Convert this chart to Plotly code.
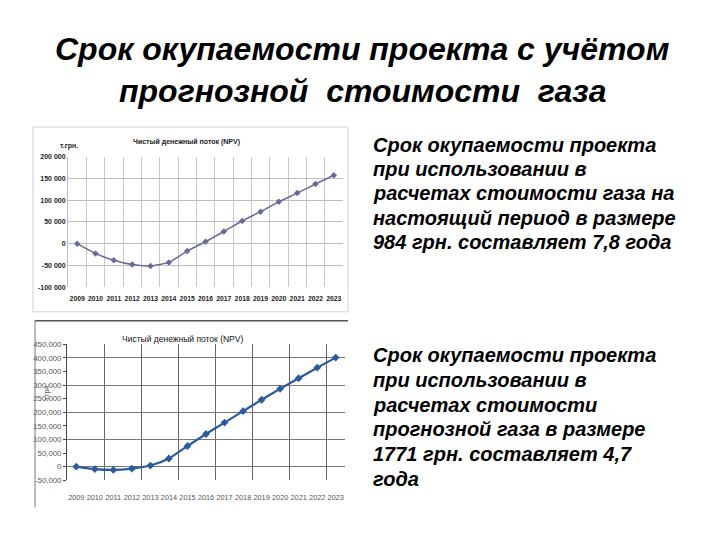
import plotly.graph_objects as go

years = [2009, 2010, 2011, 2012, 2013, 2014, 2015, 2016, 2017, 2018, 2019, 2020, 2021, 2022, 2023]
npv_current = [0, -22500, -38000, -48000, -51000, -43000, -17000, 4500, 28000, 52000, 73500, 96000, 116000, 137000, 157000]
npv_forecast = [0, -9000, -12000, -7000, 4000, 30000, 76000, 120000, 162000, 204000, 246000, 286000, 325000, 364000, 401000]

y1_ticks = [-100000, -50000, 0, 50000, 100000, 150000, 200000]
y1_labels = ["-100 000", "-50 000", "0", "50 000", "100 000", "150 000", "200 000"]
y2_ticks = [-50000, 0, 50000, 100000, 150000, 200000, 250000, 300000, 350000, 400000, 450000]
y2_labels = ["-50,000", "0", "50,000", "100,000", "150,000", "200,000", "250,000",
             "300,000", "350,000", "400,000", "450,000"]

title_lines = ["Срок окупаемости проекта с учётом", "прогнозной  стоимости  газа"]
text1_lines = ["Срок окупаемости проекта", "при использовании в", "расчетах стоимости газа на",
               "настоящий период в размере", "984 грн. составляет 7,8 года"]
text2_lines = ["Срок окупаемости проекта", "при использовании в", "расчетах стоимости",
               "прогнозной газа в размере", "1771 грн. составляет 4,7", "года"]
chart_title = "Чистый денежный поток (NPV)"

# the page body has an 8px margin; size the figure so that it fills the window exactly
OFF = 8
W, H = 720 - OFF, 540 - OFF
def px(x): return (x - OFF) / W
def py(y): return 1 - (y - OFF) / H

FONT = "Liberation Sans"

fig = go.Figure()
fig.add_trace(go.Scatter(
    x=years, y=npv_current, mode="lines+markers", xaxis="x", yaxis="y",
    line=dict(color="#6a6a98", width=1.5, shape="spline", smoothing=0.6),
    marker=dict(symbol="diamond", size=5, color="#6a6a98"),
    showlegend=False, hoverinfo="skip"))
fig.add_trace(go.Scatter(
    x=years, y=npv_forecast, mode="lines+markers", xaxis="x2", yaxis="y2",
    line=dict(color="#2c5b9c", width=2.2, shape="spline", smoothing=0.6),
    marker=dict(symbol="diamond", size=6, color="#2c5b9c"),
    showlegend=False, hoverinfo="skip"))

fig.update_layout(
    width=W, height=H,
    margin=dict(l=0, r=0, t=0, b=0),
    paper_bgcolor="white", plot_bgcolor="white",
    font=dict(family=FONT, color="#000"),
    xaxis=dict(domain=[px(68), px(343)], anchor="y", range=[2008.5, 2023.5],
               tickmode="array", tickvals=years, ticktext=[str(v) for v in years],
               showgrid=False, zeroline=False, showline=False, ticks="", tickangle=0,
               ticklabelstandoff=6,
               tickfont=dict(size=6.8, color="#222", weight="bold"),
               minor=dict(tick0=2008.5, dtick=1, showgrid=True, gridcolor="#c8c8c8", gridwidth=1, ticks="")),
    yaxis=dict(domain=[py(288), py(155)], anchor="x", range=[-100000, 200000],
               tickmode="array", tickvals=y1_ticks, ticktext=y1_labels,
               showgrid=True, gridcolor="#bdbdbd", gridwidth=1, zeroline=False,
               showline=True, linecolor="#bdbdbd", ticks="",
               tickfont=dict(size=7, color="#222", weight="bold")),
    xaxis2=dict(domain=[px(67), px(345)], anchor="y2", range=[2008.5, 2023.5],
                tickmode="array", tickvals=years, ticktext=[str(v) for v in years],
                showgrid=False, zeroline=False, showline=False, ticks="", tickangle=0,
                ticklabelstandoff=11,
                tickfont=dict(size=7.3, color="#555"),
                minor=dict(tick0=2010.5, dtick=2, showgrid=True, gridcolor="#666", gridwidth=1, ticks="")),
    yaxis2=dict(domain=[py(484.3), py(346)], anchor="x2", range=[-50000, 450000],
                tickmode="array", tickvals=y2_ticks, ticktext=y2_labels,
                showgrid=False, zeroline=False,
                showline=True, linecolor="#444", ticks="outside", ticklen=3, tickcolor="#444",
                tickfont=dict(size=7.8, color="#555"),
                minor=dict(tickvals=[0, 100000, 200000, 300000, 400000], showgrid=True,
                           gridcolor="#777", gridwidth=1, ticks="")),
)

# frames
fig.add_shape(type="rect", xref="paper", yref="paper",
              x0=px(33), x1=px(348), y0=py(313), y1=py(125),
              line=dict(color="#d0d0d0", width=1), layer="below")
fig.add_shape(type="line", xref="paper", yref="paper",
              x0=px(35), x1=px(348), y0=py(322), y1=py(322),
              line=dict(color="#555", width=1.5))
fig.add_shape(type="line", xref="paper", yref="paper",
              x0=px(35), x1=px(35), y0=py(322), y1=py(512),
              line=dict(color="#777", width=1))

ann = []
bi = dict(family=FONT, weight="bold", style="italic", color="#000")
for i, line in enumerate(title_lines):
    ann.append(dict(text=line, x=px(362), y=py(46 + 42.5 * i), xref="paper", yref="paper",
                    xanchor="center", yanchor="middle", showarrow=False,
                    font=dict(size=32, **bi)))
for i, line in enumerate(text1_lines):
    ann.append(dict(text=line, x=px(371), y=py(143 + 24.7 * i), xref="paper", yref="paper",
                    xanchor="left", yanchor="middle", showarrow=False,
                    font=dict(size=20, **bi)))
for i, line in enumerate(text2_lines):
    ann.append(dict(text=line, x=px(371), y=py(357 + 25.2 * i), xref="paper", yref="paper",
                    xanchor="left", yanchor="middle", showarrow=False,
                    font=dict(size=20, **bi)))
ann.append(dict(text=chart_title, x=px(187), y=py(140), xref="paper", yref="paper",
                xanchor="center", yanchor="middle", showarrow=False,
                font=dict(size=7, family=FONT, weight="bold", color="#222")))
ann.append(dict(text="т.грн.", x=px(69), y=py(144), xref="paper", yref="paper",
                xanchor="center", yanchor="middle", showarrow=False,
                font=dict(size=7, family=FONT, weight="bold", color="#222")))
ann.append(dict(text=chart_title, x=px(182), y=py(341), xref="paper", yref="paper",
                xanchor="center", yanchor="middle", showarrow=False,
                font=dict(size=8.5, family=FONT, color="#111")))
ann.append(dict(text="т.грн.", x=px(47), y=py(395), xref="paper", yref="paper",
                xanchor="center", yanchor="middle", showarrow=False, textangle=-90,
                font=dict(size=7, family=FONT, color="#444")))
fig.update_layout(annotations=ann)

fig.write_html("out.html")
